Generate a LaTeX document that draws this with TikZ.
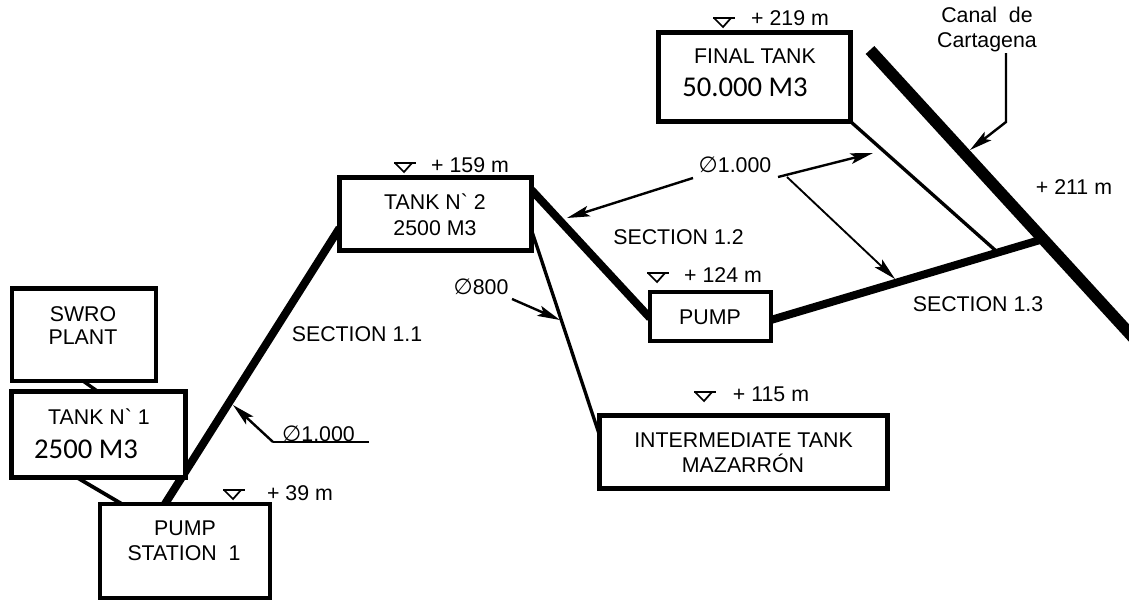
\documentclass[tikz,border=0pt]{standalone}
\usepackage{fontspec}
\setmainfont{Liberation Sans}
\newfontfamily\calfont{Carlito}
\usetikzlibrary{arrows.meta,calc,backgrounds}
\tikzset{
  x=0.75pt,y=-0.75pt,
  tankbox/.style={draw,fill=white,line width=3.5pt,outer sep=0pt,inner sep=0pt},
  lab/.style={inner sep=0pt,font=\fontsize{16}{18}\selectfont,text height=11.5pt,text depth=0pt},
  biglab/.style={inner sep=0pt,font=\calfont\fontsize{21.5}{24}\selectfont,text height=13.8pt,text depth=0pt},
  pipeA/.style={line width=6pt},
  pipeB/.style={line width=2.5pt},
  canalline/.style={line width=8.8pt},
  leader/.style={line width=1.8pt,-{Stealth[length=17pt,width=8pt,inset=3.5pt]}},
  plainleader/.style={line width=1.3pt},
  lvl/.pic={\draw[line width=1.3pt,fill=white] (1,0)--(10,9)--(18,0); \draw[line width=1.7pt] (0,0)--(22,0);}
}
\newcommand{\dia}{{\fontspec{DejaVu Sans}\fontsize{16.5}{18}\selectfont ∅}}
\begin{document}
\begin{tikzpicture}
\clip (0,0) rectangle (1129,600);
% boxes
\node[tankbox,minimum width=108pt,minimum height=69.4pt] (swro) at (84,334.75) {};
\node[tankbox,minimum width=130.5pt,minimum height=64.5pt] (tankone) at (98.5,434.5) {};
\node[tankbox,minimum width=127.5pt,minimum height=70.5pt] (pumpst) at (185,551) {};
\node[tankbox,minimum width=144pt,minimum height=54.75pt] (tanktwo) at (435.5,214) {};
\node[tankbox,minimum width=144pt,minimum height=66.75pt] (finaltank) at (754.5,77) {};
\node[tankbox,minimum width=90.75pt,minimum height=36.75pt] (pumpbox) at (710.5,316.5) {};
\node[tankbox,minimum width=216pt,minimum height=54.75pt] (intertank) at (743.5,452) {};
% box labels
\node[lab] (t1) at (83,314) {SWRO};
\node[lab] (t2) at (83,337) {PLANT};
\node[lab] (t3) at (99,417) {TANK N\textasciigrave\ 1};
\node[biglab] (t4) at (86,449) {2500 M3};
\node[lab] (t5) at (185,528) {PUMP};
\node[lab] (t6) at (184,553) {STATION\ \ 1};
\node[lab] (t7) at (435,202) {TANK N\textasciigrave\ 2};
\node[lab] (t8) at (435,228) {2500 M3};
\node[lab] (t9) at (755,56) {FINAL TANK};
\node[biglab] (t10) at (745,87) {50.000 M3};
\node[lab] (t11) at (710,317) {PUMP};
\node[lab] (t12) at (743.5,440) {INTERMEDIATE TANK};
\node[lab] (t13) at (743,465) {MAZARRÓN};
% free labels
\node[lab] (s1) at (357,334) {SECTION 1.1};
\node[lab] (s2) at (678.5,237) {SECTION 1.2};
\node[lab] (s3) at (978,304) {SECTION 1.3};
\node[lab] (e1) at (300,493) {+ 39 m};
\node[lab] (e2) at (470,165) {+ 159 m};
\node[lab] (e3) at (790,18) {+ 219 m};
\node[lab] (e4) at (723,275) {+ 124 m};
\node[lab] (e5) at (771,394) {+ 115 m};
\node[lab] (e6) at (1074,187) {+ 211 m};
\node[lab] (c1) at (987,15) {Canal\ \ de};
\node[lab] (c2) at (987,40) {Cartagena};
\node[lab] (d1) at (318.5,434) {\dia 1.000};
\node[lab] (d2) at (735,165) {\dia 1.000};
\node[lab] (d3) at (481,287) {\dia 800};
% markers
\pic at (223,490) {lvl};
\pic at (394,163) {lvl};
\pic at (713,18) {lvl};
\pic at (647,273) {lvl};
\pic at (694,392) {lvl};
% free coordinates
\coordinate (canA) at (870,50);
\coordinate (canB) at (1140,345);
\coordinate (junc) at (1040,240);
\coordinate (secend) at (995,250);
\coordinate (la) at (273,442);
\coordinate (lb) at (369,442);
\coordinate (la1) at (233,405);
\coordinate (ca) at (1006,53);
\coordinate (cb) at (1006,122);
\coordinate (cc) at (970,150);
\coordinate (dm1) at (693,178);
\coordinate (dm2) at (567,218);
\coordinate (dr0) at (778,177);
\coordinate (dr1) at (873,153);
\coordinate (dr2) at (787,177);
\coordinate (dr3) at (895,279);
\coordinate (ds0) at (512,299);
\coordinate (ds1) at (560,320);
\begin{pgfonlayer}{background}
\draw[pipeB] ($(swro.south west)!.493!(swro.south east)$) -- ($(tankone.north west)!.497!(tankone.north east)$);
\draw[pipeB,line width=2.8pt] ($(tankone.south west)!.376!(tankone.south east)$) -- ($(pumpst.north west)!.129!(pumpst.north east)$);
\draw[pipeA] ($(pumpst.north west)!.382!(pumpst.north east)$) -- ($(tanktwo.south west)!.308!(tanktwo.north west)$);
\draw[pipeA] ($(tanktwo.north east)!.17!(tanktwo.south east)$) -- ($(pumpbox.north west)!.53!(pumpbox.south west)$);
\draw[pipeA] ($(pumpbox.north east)!.57!(pumpbox.south east)$) -- (junc);
\draw[pipeB] ($(tanktwo.north east)!.72!(tanktwo.south east)$) -- ($(intertank.north west)!.27!(intertank.south west)$);
\draw[pipeB] (finaltank.south east) -- (secend);
\draw[canalline] (canA) -- (canB);
\end{pgfonlayer}
% leaders
\draw[plainleader] (lb) -- (la);
\draw[leader] (la) -- (la1);
\draw[leader] (dm1) -- (dm2);
\draw[leader] (dr0) -- (dr1);
\draw[leader,line width=1.4pt] (dr2) -- (dr3);
\draw[leader] (ds0) -- (ds1);
\draw[leader] (ca) -- (cb) -- (cc);
\end{tikzpicture}
\end{document}
